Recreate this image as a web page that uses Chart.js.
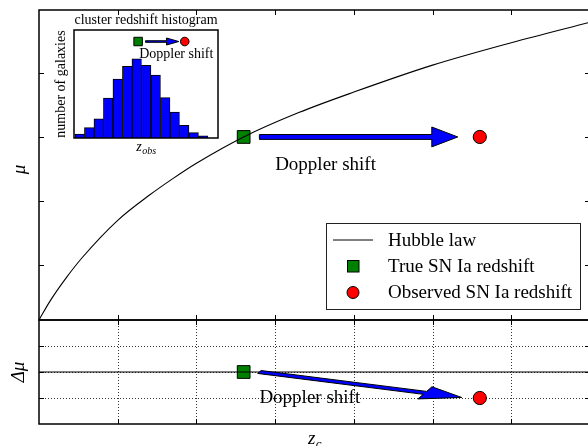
<!DOCTYPE html>
<html><head><meta charset="utf-8">
<script src="https://cdn.jsdelivr.net/npm/chart.js@4"></script>
<style>
html,body{margin:0;padding:0;background:#fff;overflow:hidden;width:588px;height:446px;}
canvas{position:absolute;left:0;top:0;}
</style></head><body>
<canvas id="top" width="600" height="446"></canvas>
<canvas id="bot" width="600" height="446"></canvas>
<canvas id="ins" width="600" height="446"></canvas>
<script>
// ---------- data ----------
const hubbleZ  = [0, 0.14, 0.35, 0.55, 1.0, 1.4, 1.7, 2.0, 2.6, 3.3, 4.0, 5.0, 6.0, 7.0];
const hubbleMu = [0.145, 0.44, 0.81, 1.12, 1.70, 2.09, 2.35, 2.59, 3.0, 3.38, 3.70, 4.12, 4.47, 4.79];
const trueZ = [2.6],  trueMu = [3.0];
const obsZ  = [5.6],  obsMu  = [3.0];
const residZ = [0, 7], residMu = [0, 0];
const trueDmu = [0.0], obsDmu = [-1.0];
const zTicks = [1, 2, 3, 4, 5, 6, 7];
const muTicks = [1, 2, 3, 4];
const dmuTicks = [-1, 0, 1];
const histCenters = [0.6, 1.6, 2.6, 3.6, 4.6, 5.6, 6.6, 7.6, 8.6, 9.6, 10.6, 11.6, 12.6, 13.6];
const histCounts  = [11, 29, 53, 111, 164, 199, 220, 202, 175, 112, 72, 35, 15, 6];
const insetTrueZ = [6.75], insetObsZ = [11.66], insetMarkY = [268];
const legendLabels = ['Hubble law', 'True SN Ia redshift', 'Observed SN Ia redshift'];
const shiftLabel = 'Doppler shift';

const SERIF = '"Liberation Serif", "Times New Roman", serif';
const BLUE = '#0000ff', GREEN = '#008000', RED = '#ff0000';

function drawArrow(ctx, xs, ys, ar) {
  const dx = ar.tip[0] - ar.start[0], dy = ar.tip[1] - ar.start[1];
  const L = Math.hypot(dx, dy), ux = dx / L, uy = dy / L, px = -uy, py = ux;
  const bx = ar.tip[0] - ar.headLen * ux, by = ar.tip[1] - ar.headLen * uy;
  const pts = [
    [ar.start[0] + ar.shaft * px, ar.start[1] + ar.shaft * py],
    [bx + ar.shaft * px, by + ar.shaft * py],
    [bx + ar.head * px, by + ar.head * py],
    [ar.tip[0], ar.tip[1]],
    [bx - ar.head * px, by - ar.head * py],
    [bx - ar.shaft * px, by - ar.shaft * py],
    [ar.start[0] - ar.shaft * px, ar.start[1] - ar.shaft * py]
  ];
  ctx.save();
  ctx.beginPath();
  pts.forEach((p, i) => {
    const X = xs.getPixelForValue(p[0]), Y = ys.getPixelForValue(p[1]);
    i ? ctx.lineTo(X, Y) : ctx.moveTo(X, Y);
  });
  ctx.closePath();
  ctx.fillStyle = BLUE; ctx.fill();
  ctx.strokeStyle = '#000'; ctx.lineWidth = 1; ctx.lineJoin = 'miter'; ctx.stroke();
  ctx.restore();
}

function text(ctx, s, x, y, font, align, rot) {
  ctx.save();
  ctx.font = font; ctx.fillStyle = '#000'; ctx.textAlign = align || 'left'; ctx.textBaseline = 'alphabetic';
  ctx.translate(x, y); if (rot) ctx.rotate(rot);
  ctx.fillText(s, 0, 0);
  ctx.restore();
}
function subText(ctx, main, sub, x, y, size, subSize) {
  ctx.save();
  ctx.fillStyle = '#000'; ctx.textBaseline = 'alphabetic';
  ctx.font = 'italic ' + size + 'px ' + SERIF;
  const w = ctx.measureText(main).width;
  ctx.font = 'italic ' + subSize + 'px ' + SERIF;
  const ws = ctx.measureText(sub).width;
  const x0 = x - (w + ws) / 2;
  ctx.font = 'italic ' + size + 'px ' + SERIF;
  ctx.fillText(main, x0, y);
  ctx.font = 'italic ' + subSize + 'px ' + SERIF;
  ctx.fillText(sub, x0 + w + 0.5, y + size * 0.22);
  ctx.restore();
}

function axesPlugin(o) {
  return {
    id: 'mplAxes',
    beforeDatasetsDraw(chart) {
      const ctx = chart.ctx, a = chart.chartArea, xs = chart.scales.x, ys = chart.scales.y;
      if (o.bg) { ctx.save(); ctx.fillStyle = '#fff'; ctx.fillRect(a.left, a.top, a.right - a.left, a.bottom - a.top); ctx.restore(); }
      if (o.grid) {
        ctx.save(); ctx.strokeStyle = '#000'; ctx.lineWidth = 0.8; ctx.setLineDash([1, 2]);
        o.gridX.forEach(v => { const X = Math.round(xs.getPixelForValue(v)) + 0.5; ctx.beginPath(); ctx.moveTo(X, a.top); ctx.lineTo(X, a.bottom); ctx.stroke(); });
        o.gridY.forEach(v => { const Y = Math.round(ys.getPixelForValue(v)) + 0.5; ctx.beginPath(); ctx.moveTo(a.left, Y); ctx.lineTo(a.right, Y); ctx.stroke(); });
        ctx.restore();
      }
    },
    afterDatasetsDraw(chart) {
      const ctx = chart.ctx, a = chart.chartArea, xs = chart.scales.x, ys = chart.scales.y;
      (o.arrows || []).forEach(ar => drawArrow(ctx, xs, ys, ar));
      (o.texts || []).forEach(t => text(ctx, t.s, xs.getPixelForValue(t.x), ys.getPixelForValue(t.y), t.font));
      ctx.save(); ctx.strokeStyle = '#000'; ctx.lineWidth = 1.5;
      ctx.strokeRect(a.left, a.top, a.right - a.left, a.bottom - a.top);
      ctx.lineWidth = 1; const TL = 5;
      (o.xTicks || []).forEach(v => {
        const X = Math.round(xs.getPixelForValue(v)) + 0.5;
        ctx.beginPath(); ctx.moveTo(X, a.bottom); ctx.lineTo(X, a.bottom - TL);
        ctx.moveTo(X, a.top); ctx.lineTo(X, a.top + TL); ctx.stroke();
      });
      (o.yTicks || []).forEach(v => {
        const Y = Math.round(ys.getPixelForValue(v)) + 0.5;
        ctx.beginPath(); ctx.moveTo(a.left, Y); ctx.lineTo(a.left + TL, Y);
        ctx.moveTo(a.right, Y); ctx.lineTo(a.right - TL, Y); ctx.stroke();
      });
      ctx.restore();
      if (o.after) o.after(chart, ctx, a, xs, ys);
    }
  };
}

const baseOpts = (pad, xr, yr) => ({
  responsive: false, animation: false, events: [], devicePixelRatio: 1,
  layout: { padding: pad },
  plugins: { legend: { display: false }, tooltip: { enabled: false } },
  scales: {
    x: { type: 'linear', display: false, offset: false, min: xr[0], max: xr[1] },
    y: { type: 'linear', display: false, offset: false, min: yr[0], max: yr[1] }
  }
});

const xy = (xa, ya) => xa.map((v, i) => ({ x: v, y: ya[i] }));

// ---------- top panel ----------
new Chart(document.getElementById('top'), {
  type: 'scatter',
  data: { datasets: [
    { label: legendLabels[0], type: 'line', data: xy(hubbleZ, hubbleMu), borderColor: '#000', borderWidth: 1.1,
      pointRadius: 0, cubicInterpolationMode: 'monotone', fill: false },
    { label: legendLabels[1], data: xy(trueZ, trueMu), pointStyle: 'rect', pointRadius: 9,
      backgroundColor: GREEN, borderColor: '#000', borderWidth: 1 },
    { label: legendLabels[2], data: xy(obsZ, obsMu), pointStyle: 'circle', pointRadius: 6.6,
      backgroundColor: RED, borderColor: '#000', borderWidth: 1 }
  ]},
  options: baseOpts({ left: 39, top: 9, right: 8, bottom: 126 }, [0, 7], [0.145, 4.98]),
  plugins: [axesPlugin({
    xTicks: zTicks, yTicks: muTicks,
    arrows: [{ start: [2.8, 3.0], tip: [5.32, 3.0], headLen: 0.33, head: 0.155, shaft: 0.038 }],
    texts: [{ s: shiftLabel, x: 3.0, y: 2.49, font: '19px ' + SERIF }],
    after(chart, ctx, a) {
      text(ctx, 'μ', 25, 169.5, 'italic 19px ' + SERIF, 'center', -Math.PI / 2);
      const L = a.right - 9 - 255, T = a.bottom - 10 - 87;
      ctx.save();
      ctx.fillStyle = '#fff'; ctx.fillRect(L, T, 255, 87);
      ctx.strokeStyle = '#222'; ctx.lineWidth = 1; ctx.strokeRect(L + 0.5, T + 0.5, 254, 86);
      const ds = chart.data.datasets;
      ctx.strokeStyle = ds[0].borderColor; ctx.lineWidth = 1;
      ctx.beginPath(); ctx.moveTo(L + 7, T + 17); ctx.lineTo(L + 47, T + 17); ctx.stroke();
      ctx.fillStyle = ds[1].backgroundColor; ctx.strokeStyle = '#000';
      ctx.fillRect(L + 21.5, T + 37.5, 11.5, 11.5); ctx.strokeRect(L + 21.5, T + 37.5, 11.5, 11.5);
      ctx.fillStyle = ds[2].backgroundColor;
      ctx.beginPath(); ctx.arc(L + 27, T + 69.5, 6, 0, Math.PI * 2); ctx.fill(); ctx.stroke();
      ctx.restore();
      legendLabels.forEach((s, i) => text(ctx, s, L + 62, T + 22.5 + i * 26.3, '19px ' + SERIF));
    }
  })]
});

// ---------- bottom panel ----------
new Chart(document.getElementById('bot'), {
  type: 'scatter',
  data: { datasets: [
    { type: 'line', data: xy(residZ, residMu), borderColor: '#000', borderWidth: 1.1, pointRadius: 0, fill: false },
    { data: xy(trueZ, trueDmu), pointStyle: 'rect', pointRadius: 9, backgroundColor: GREEN, borderColor: '#000', borderWidth: 1 },
    { data: xy(obsZ, obsDmu), pointStyle: 'circle', pointRadius: 6.6, backgroundColor: RED, borderColor: '#000', borderWidth: 1 }
  ]},
  options: baseOpts({ left: 39, top: 320, right: 8, bottom: 22 }, [0, 7], [-2, 2]),
  plugins: [axesPlugin({
    grid: true, gridX: zTicks, gridY: dmuTicks,
    xTicks: zTicks, yTicks: dmuTicks,
    arrows: [{ start: [2.8, 0.0], tip: [5.37, -0.98], headLen: 0.5, head: 0.25, shaft: 0.06 }],
    texts: [{ s: shiftLabel, x: 2.8, y: -1.2, font: '19px ' + SERIF }],
    after(chart, ctx, a) {
      text(ctx, 'Δμ', 24, 372, 'italic 19px ' + SERIF, 'center', -Math.PI / 2);
      subText(ctx, 'z', 'c', (a.left + a.right) / 2, 444, 19, 13);
    }
  })]
});

// ---------- inset histogram ----------
const insOpts = baseOpts({ left: 74, top: 30, right: 382, bottom: 308 }, [0, 15.16], [0, 300]);
insOpts.scales.x.afterBuildTicks = s => { s.ticks = []; };
new Chart(document.getElementById('ins'), {
  type: 'bar',
  data: { datasets: [
    { type: 'scatter', data: xy(insetTrueZ, insetMarkY), pointStyle: 'rect', pointRadius: 6, backgroundColor: GREEN, borderColor: '#000', borderWidth: 1, order: 0 },
    { type: 'scatter', data: xy(insetObsZ, insetMarkY), pointStyle: 'circle', pointRadius: 4.3, backgroundColor: RED, borderColor: '#000', borderWidth: 1, order: 0 },
    { type: 'bar', data: xy(histCenters, histCounts), backgroundColor: BLUE, borderColor: '#000', borderWidth: 1,
      barPercentage: 1, categoryPercentage: 1, grouped: false, order: 1 }
  ]},
  options: insOpts,
  plugins: [axesPlugin({
    bg: true,
    arrows: [{ start: [7.53, 268], tip: [11.03, 268], headLen: 1.29, head: 9.7, shaft: 2.2 }],
    texts: [{ s: shiftLabel, x: 6.86, y: 222, font: '14px ' + SERIF }],
    after(chart, ctx, a) {
      text(ctx, 'cluster redshift histogram', (a.left + a.right) / 2, 24, '14px ' + SERIF, 'center');
      text(ctx, 'number of galaxies', 65, (a.top + a.bottom) / 2, '14px ' + SERIF, 'center', -Math.PI / 2);
      subText(ctx, 'z', 'obs', (a.left + a.right) / 2, 151, 14, 10);
    }
  })]
});
</script>
</body></html>
